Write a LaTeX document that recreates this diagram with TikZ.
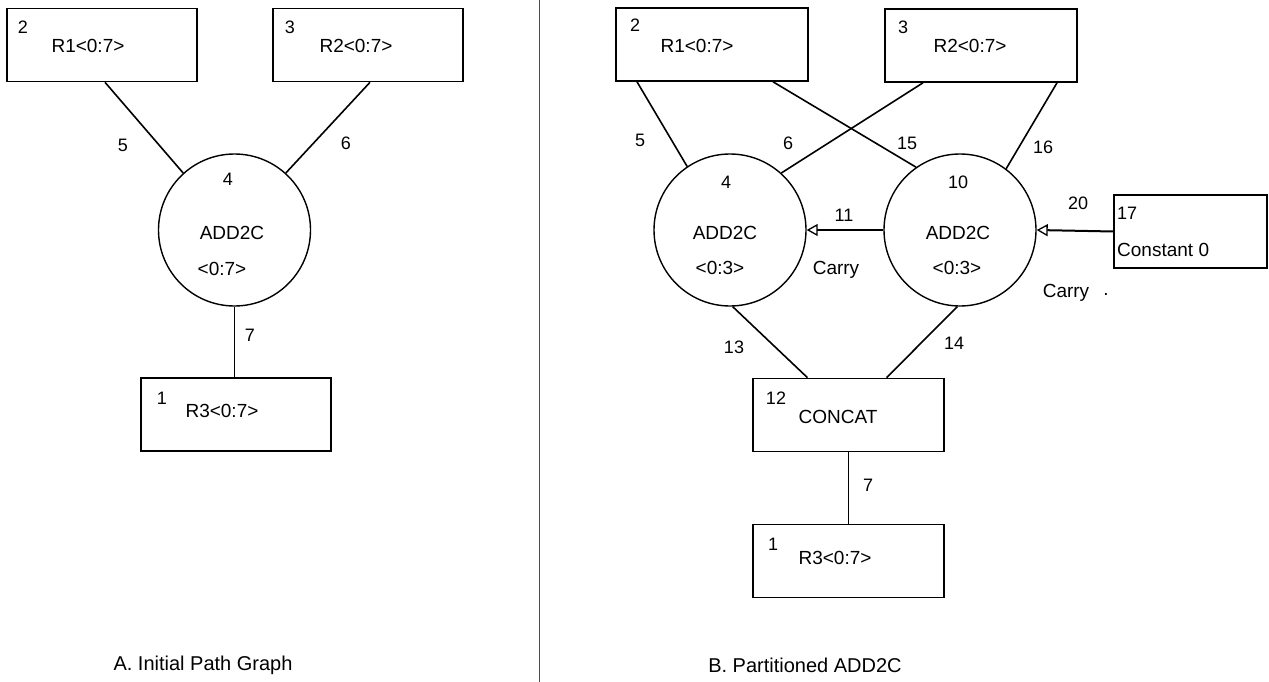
\documentclass[tikz,border=0pt]{standalone}
\usepackage{fontspec}
\setmainfont{Liberation Sans}
\usetikzlibrary{arrows.meta,calc}
\begin{document}
\begin{tikzpicture}[x=1pt,y=-1pt,
  box/.style={draw,line width=1.6pt,minimum width=190pt,minimum height=73pt,inner sep=0pt},
  opnode/.style={draw,circle,line width=1.4pt,minimum size=152pt,inner sep=0pt},
  txt/.style={inner sep=0pt,font=\fontsize{19}{21}\selectfont},
  num/.style={inner sep=0pt,font=\fontsize{18}{20}\selectfont},
  captext/.style={inner sep=0pt,font=\fontsize{20}{22}\selectfont},
  wire/.style={line width=1.6pt},
  thinwire/.style={line width=0.8pt},
  carry/.style={line width=1.3pt,-{Triangle[open,length=11pt,width=12pt,line width=1.3pt]}}]
\useasboundingbox (0,0) rectangle (1269,682);
% separator
\draw[line width=0.8pt,black!70] (539,0) coordinate (sepT) -- (539,682) coordinate (sepB);

% ---------- Panel A ----------
\node[box] (a2) at (102,45) {};
\node[box] (a3) at (368,45) {};
\node[opnode] (a4) at (234.5,230) {};
\node[box] (a1) at (236,414.5) {};

\node[num] (a2n) at (23,27) {2};
\node[txt] (a2t) at (88,46) {R1<0:7>};
\node[num] (a3n) at (290,27) {3};
\node[txt] (a3t) at (356,46) {R2<0:7>};
\node[num] (a4n) at (228,179) {4};
\node[txt] (a4t) at (232,233) {ADD2C};
\node[txt] (a4r) at (222,269) {<0:7>};
\node[num] (a1n) at (162,398) {1};
\node[txt] (a1t) at (222,411) {R3<0:7>};

\draw[wire] ([xshift=3pt]a2.south) -- (a4.132);
\draw[wire] ([xshift=2pt]a3.south) -- (a4.48);
\draw[thinwire] (a4.south) -- (a4.south |- a1.north);

\node[num] (l5a) at (123,145) {5};
\node[num] (l6a) at (346,143) {6};
\node[num] (l7a) at (250,335) {7};

\node[captext] (capA) at (203,665) {A. Initial Path Graph};

% ---------- Panel B ----------
\node[box,minimum width=192pt] (b2) at (712,44.5) {};
\node[box,minimum width=192pt] (b3) at (981,45.5) {};
\node[opnode] (c4) at (730,230) {};
\node[opnode] (c10) at (960,230) {};
\node[box,minimum width=153pt] (b17) at (1190.5,231.5) {};
\node[box,minimum width=191pt] (b12) at (848.5,415) {};
\node[box,minimum width=191pt] (b1) at (848.5,561) {};

\node[num] (b2n) at (635,25) {2};
\node[txt] (b2t) at (697,46) {R1<0:7>};
\node[num] (b3n) at (903,27) {3};
\node[txt] (b3t) at (970,46) {R2<0:7>};
\node[num] (c4n) at (726,182) {4};
\node[txt] (c4t) at (725,233) {ADD2C};
\node[txt] (c4r) at (720,268) {<0:3>};
\node[num] (c10n) at (958,182) {10};
\node[txt] (c10t) at (958,233) {ADD2C};
\node[txt] (c10r) at (957,268) {<0:3>};
\node[num] (b17n) at (1127,213) {17};
\node[txt,anchor=west] (b17t) at (1117,250) {Constant 0};
\node[num] (b12n) at (776,398) {12};
\node[txt] (b12t) at (838,417) {CONCAT};
\node[num] (b1n) at (773,544) {1};
\node[txt] (b1t) at (835,558) {R3<0:7>};

\draw[wire] ([xshift=-75pt]b2.south) -- (c4.124);
\draw[wire] ([xshift=-58pt]b3.south) -- (c4.48);
\draw[wire] ([xshift=61pt]b2.south) -- (c10.125);
\draw[wire] ([xshift=76pt]b3.south) -- (c10.53);
\draw[wire] (c4.272) -- ([xshift=-41pt]b12.north);
\draw[wire] (c10.268) -- ([xshift=38pt]b12.north);
\draw[thinwire] (b12.south) -- (b1.north);
\draw[carry] (c10.west) -- (c4.east);
\draw[carry,line width=2pt] (b17.west) -- (c10.east);

\node[num] (l5b) at (640,140) {5};
\node[num] (l6b) at (788,143) {6};
\node[num] (l15) at (907,143) {15};
\node[num] (l16) at (1043,147) {16};
\node[num] (l11) at (844,215) {11};
\node[num] (l20) at (1078,203) {20};
\node[txt] (cy1) at (836,270) {Carry};
\node[txt] (cy2) at (1066,293) {Carry};
\node[txt] (dot) at (1106,294) {.};
\node[num] (l13) at (734,347) {13};
\node[num] (l14) at (954,343) {14};
\node[num] (l7b) at (868,485) {7};

\node[captext] (capB) at (805,665) {B. Partitioned ADD2C};
\end{tikzpicture}
\end{document}
